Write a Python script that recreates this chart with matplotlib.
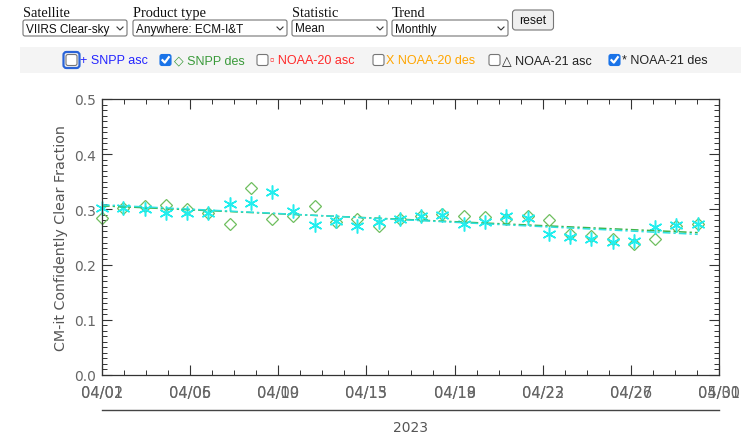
import matplotlib.pyplot as plt
import matplotlib.patches as patches
import numpy as np
from numpy.polynomial.polynomial import polyfit

W, H = 741, 435

# daily points, April 2023
dates = ['04/%02d' % d for d in range(1, 30)]
snpp_des = [0.285, 0.303, 0.306, 0.308, 0.300, 0.294, 0.273, 0.339, 0.282, 0.288,
            0.306, 0.277, 0.282, 0.270, 0.282, 0.288, 0.292, 0.288, 0.287, 0.283,
            0.288, 0.280, 0.256, 0.251, 0.247, 0.238, 0.247, 0.270, 0.274]
noaa21_des = [0.302, 0.303, 0.301, 0.294, 0.294, 0.294, 0.310, 0.311, 0.332, 0.298,
              0.271, 0.279, 0.270, 0.277, 0.282, 0.288, 0.290, 0.273, 0.277, 0.288,
              0.284, 0.255, 0.250, 0.246, 0.241, 0.243, 0.268, 0.271, 0.274]

# two overlapping label sets on the date axis
labels_a = ['04/01', '04/05', '04/09', '04/13', '04/18', '04/22', '04/26', '05/01']
labels_b = ['04/02', '04/06', '04/10', '04/15', '04/19', '04/23', '04/27', '04/30']
y_ticks = [0.0, 0.1, 0.2, 0.3, 0.4, 0.5]

# page controls above the plot
menu_titles = ['Satellite', 'Product type', 'Statistic', 'Trend']
menu_values = ['VIIRS Clear-sky', 'Anywhere: ECM-I&T', 'Mean', 'Monthly']
legend_items = ['+ SNPP asc', '\u25c7 SNPP des', '\u25ab NOAA-20 asc',
                'X NOAA-20 des', '\u25b3 NOAA-21 asc', '* NOAA-21 des']
legend_checked = [False, True, False, False, False, True]
legend_colors = ['#2424ff', '#3a9a3a', '#ff2a2a', '#ffa500', '#222222', '#222222']

fig = plt.figure(figsize=(W / 100, H / 100), dpi=100)

# overlay in pixel units for the html-like widgets
bg = fig.add_axes([0, 0, 1, 1])
bg.set_xlim(0, W)
bg.set_ylim(H, 0)
bg.axis('off')

sans = ['Liberation Sans', 'DejaVu Sans']
menu_x = [23, 133, 292, 392]
menu_w = [104, 154, 95, 116]
for i in range(4):
    bg.text(menu_x[i], 17, menu_titles[i], family='Liberation Serif', fontsize=10.4,
            color='#111111', va='baseline')
    bg.add_patch(patches.FancyBboxPatch((menu_x[i], 21), menu_w[i], 16,
                 boxstyle='round,pad=0,rounding_size=2', fc='white', ec='#767676', lw=0.8))
    bg.text(menu_x[i] + 3, 29.5, menu_values[i], family=sans, fontsize=8.5,
            color='#111111', va='center')
    xr = menu_x[i] + menu_w[i]
    bg.plot([xr - 10, xr - 7, xr - 4], [28, 31, 28], color='#333333', lw=0.8)

# reset button
bg.add_patch(patches.FancyBboxPatch((512.5, 11), 41, 20,
             boxstyle='round,pad=0,rounding_size=3', fc='#efefef', ec='#767676', lw=0.8))
bg.text(533, 21, 'reset', family=sans, fontsize=8.7, color='#111111', ha='center', va='center')

# legend strip
bg.add_patch(patches.Rectangle((19.5, 48), W - 19.5, 26, fc='#f4f4f4', ec='none'))
box_x = [66, 160, 257, 373, 489, 609]
text_x = [80.5, 173.5, 270.5, 386, 502, 622]
for i in range(6):
    if legend_checked[i]:
        bg.add_patch(patches.FancyBboxPatch((box_x[i], 55.5), 11, 11,
                     boxstyle='round,pad=0,rounding_size=2', fc='#1a73e8', ec='#1a73e8', lw=0.8))
        bg.plot([box_x[i] + 2.5, box_x[i] + 4.8, box_x[i] + 8.8],
                [61.2, 63.6, 58.2], color='white', lw=1.6)
    else:
        bg.add_patch(patches.FancyBboxPatch((box_x[i], 55.5), 11, 11,
                     boxstyle='round,pad=0,rounding_size=2', fc='white', ec='#767676', lw=0.8))
    bg.text(text_x[i], 61, legend_items[i], family=sans, fontsize=9,
            color=legend_colors[i], va='center')
# focus ring on the first checkbox
bg.add_patch(patches.FancyBboxPatch((63.5, 53), 16, 16,
             boxstyle='round,pad=0,rounding_size=3', fc='none', ec='#2a64d8', lw=1.6))

# the IDL-style plot
ax = fig.add_axes([102 / W, 1 - 376 / H, 617 / W, 276 / H])
x = np.arange(len(dates))
ax.set_xlim(0, 29)
ax.set_ylim(0, 0.5)

ax.plot(x, snpp_des, linestyle='none', marker='D', ms=6.2, mfc='none',
        mec='#6fbf5f', mew=0.9, clip_on=False)
ax.plot(x, noaa21_des, linestyle='none', marker=(6, 2, 0), ms=10,
        mec='#22eeee', mew=1.1, clip_on=False)

# trend lines
b, m = polyfit(x, snpp_des, 1)
ax.plot(x, b + m * x, color='#3db44a', lw=1.1, linestyle=(0, (5, 2, 1.5, 2)))
b, m = polyfit(x, noaa21_des, 1)
ax.plot(x, b + m * x, color='#2ee0e0', lw=1.1, linestyle=(0, (5, 2, 1.5, 2)))

major = np.linspace(0, 29, 8)
ax.set_xticks(major)
ax.set_xticks(np.linspace(0, 29, 29), minor=True)
ax.set_xticklabels(labels_a)
ax.set_yticks(y_ticks)
ax.set_yticks(np.arange(0, 0.501, 0.01), minor=True)
ax.set_yticklabels(['%.1f' % v for v in y_ticks])

ax.tick_params(which='both', direction='in', top=True, right=True, color='#333333',
               labelcolor='#666666', labelsize=10)
ax.tick_params(which='major', length=7, width=0.8)
ax.tick_params(which='minor', length=3.5, width=0.7)
ax.tick_params(axis='x', pad=7, labelsize=10.5)
ax.tick_params(axis='y', pad=4)
for s in ax.spines.values():
    s.set_color('#333333')
    s.set_linewidth(0.9)

# second label set printed on top of the first
sec = ax.secondary_xaxis('bottom')
sec.set_xticks(major)
sec.set_xticklabels(labels_b)
sec.tick_params(length=0, pad=7, labelsize=10.5, labelcolor='#666666')
sec.spines['bottom'].set_visible(False)

ax.set_ylabel('CM-it Confidently Clear Fraction', fontsize=10.3, color='#555555', labelpad=5)

# year bar under the dates
ax.plot([0, 1], [-0.125, -0.125], transform=ax.transAxes, color='#444444', lw=1, clip_on=False)
ax.text(0.5, -0.19, '2023', transform=ax.transAxes, ha='center', va='center',
        fontsize=10, color='#555555')

fig.savefig('out.png', dpi=100)
